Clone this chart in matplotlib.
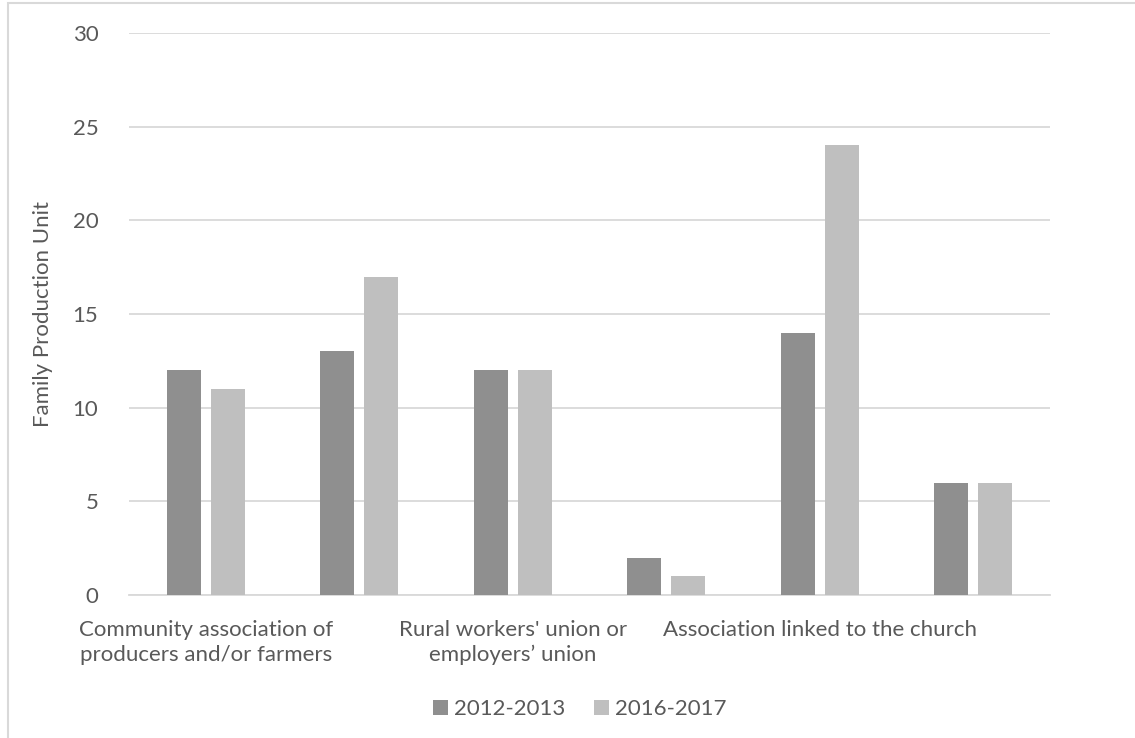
import matplotlib
matplotlib.use("Agg")
import matplotlib.pyplot as plt
from matplotlib.patches import Rectangle
import numpy as np

# Participation of family production units in local organisations
categories = [
    "Community association of\nproducers and/or farmers",
    "",
    "Rural workers' union or\nemployers\u2019 union",
    "",
    "Association linked to the church",
    "",
]
series_names = ["2012-2013", "2016-2017"]
values_2012 = [12, 13, 12, 2, 14, 6]
values_2016 = [11, 17, 12, 1, 24, 6]
y_ticks = [0, 5, 10, 15, 20, 25, 30]

dark = "#8f8f8f"
light = "#bfbfbf"
text_col = "#595959"
grid_col = "#d9d9d9"
fs = 16

plt.rcParams["font.family"] = ["Lato", "DejaVu Sans"]

fig = plt.figure(figsize=(11.35, 7.38), dpi=100)
W, H = 1135, 738
ax = fig.add_axes([129 / W, 1 - 595 / H, (1050 - 129) / W, (595 - 33) / H])

x = np.arange(len(categories))
bw = 0.222
off = 0.144
ax.bar(x - off, values_2012, width=bw, color=dark, label=series_names[0], zorder=3)
ax.bar(x + off, values_2016, width=bw, color=light, label=series_names[1], zorder=3)

ax.set_xlim(-0.5, len(categories) - 0.5)
ax.set_ylim(0, 30)
ax.set_yticks(y_ticks)
ax.set_yticklabels([str(t) for t in y_ticks], fontsize=fs, color=text_col)
ax.yaxis.grid(True, color=grid_col, linewidth=1.3, zorder=0)
ax.set_axisbelow(True)
ax.tick_params(axis="y", length=0, pad=22)
ax.tick_params(axis="x", length=0, pad=18)
ax.set_xticks(x)
ax.set_xticklabels(categories, fontsize=fs, color=text_col, linespacing=1.3)

for s in ["top", "right", "left"]:
    ax.spines[s].set_visible(False)
ax.spines["bottom"].set_color(grid_col)
ax.spines["bottom"].set_linewidth(1.3)

ax.set_ylabel("Family Production Unit", fontsize=fs, color=text_col, labelpad=14)

fig.legend(
    loc="center",
    bbox_to_anchor=(580 / W, 1 - 709 / H),
    ncol=2,
    frameon=False,
    fontsize=fs,
    labelcolor=text_col,
    handlelength=0.65,
    handleheight=0.65,
    handletextpad=0.3,
    columnspacing=1.3,
)

# Outer chart border (left and top edges visible)
fig.add_artist(
    Rectangle((8 / W, -0.05), 1.2, 1 - 3 / H + 0.05, transform=fig.transFigure,
              fill=False, edgecolor=grid_col, linewidth=1.5)
)

fig.savefig("out.png", dpi=100)
